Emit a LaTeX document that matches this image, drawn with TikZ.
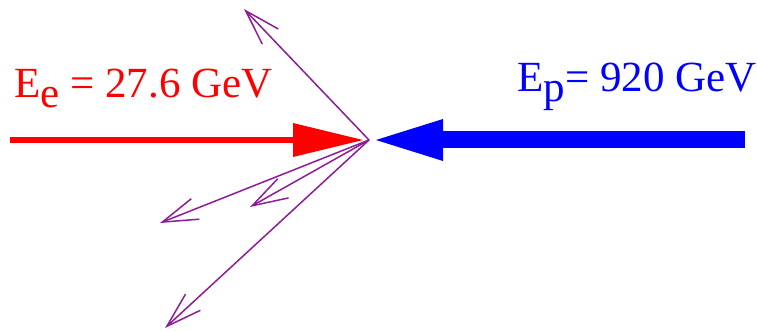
\documentclass[tikz,border=0pt]{standalone}
\usepackage{fontspec}
\setmainfont{Liberation Serif}
\usepackage{xcolor}
\usetikzlibrary{arrows.meta,positioning,calc}
\definecolor{beamred}{HTML}{FF0000}
\definecolor{beamblue}{HTML}{0000FF}
\definecolor{trackviolet}{HTML}{8E1C96}
\tikzset{
  ebeam/.style={draw=beamred, line width=3pt,
    -{Triangle[length=35pt, width=17pt, line width=0pt]}},
  pbeam/.style={draw=beamblue, line width=8.5pt,
    -{Triangle[length=33.5pt, width=21pt, line width=0pt]}},
  track/.style={draw=trackviolet, line width=0.75pt,
    -{Straight Barb[length=17.75pt, width=11pt]}},
  beamlabel/.style={anchor=base west, inner sep=0pt, font=\fontsize{21.5}{25}\selectfont}
}
\newcommand{\lowsub}[1]{\raisebox{-5pt}{#1}}
\begin{document}
\begin{tikzpicture}[x=0.5pt, y=-0.5pt]
  \useasboundingbox (0,0) rectangle (757,331);
  \coordinate (vtx) at (369,140);
  % beams
  \coordinate (estart) at (10,140);
  \coordinate (etip) at (363,140);
  \coordinate (pstart) at (745,140);
  \coordinate (ptip) at (376,140);
  \draw[ebeam] (estart) -- (etip);
  \draw[pbeam] (pstart) -- (ptip);
  \node[beamlabel, text=beamred] (elabel) at (14,98) {E\lowsub{e} = 27.6 GeV};
  \node[beamlabel, text=beamblue] (plabel) at (517,92) {E\lowsub{p}= 920 GeV};
  % outgoing tracks
  \coordinate (t1) at (244,9);
  \coordinate (t2) at (160,223);
  \coordinate (t3) at (250,207);
  \coordinate (t4) at (165,328);
  \foreach \t in {t1,t2,t3,t4}
    \draw[track] (vtx) -- (\t);
\end{tikzpicture}
\end{document}
